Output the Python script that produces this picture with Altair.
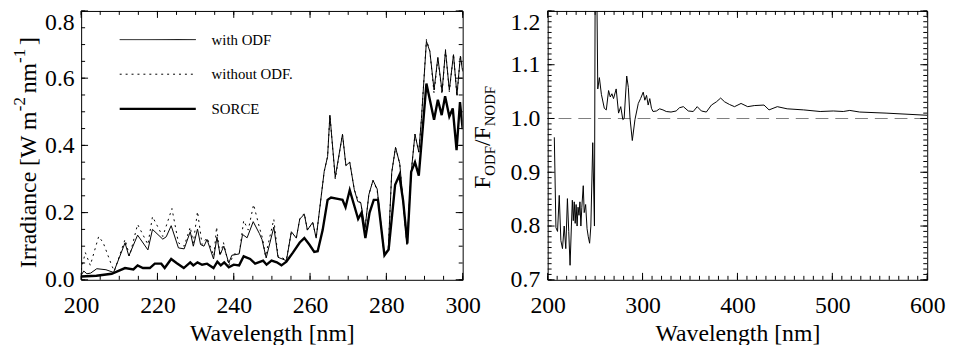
import altair as alt
import pandas as pd

# ---------------- data ----------------
with_wl = [200, 200.7, 201.5, 202.5, 204.1, 206.5, 208.5, 211.5, 212.5, 214.8, 217.5, 218.7,
           221.4, 222.3, 223.6, 225.5, 227.0, 228.6, 229.4, 230.5, 231.3, 232.2, 233.0, 234.7,
           235.6, 236.4, 237.4, 238.7, 239.5, 241.4, 242.3, 243.5, 245.1, 246.7, 247.4, 248.5,
           250.5, 251.6, 253.8, 255.1, 256.4, 257.3, 258.5, 259.3, 260.7, 261.6, 263.7, 264.6,
           265.2, 266.6, 268.5, 269.4, 270.4, 271.6, 272.5, 273.3, 274.4, 275.4, 276.5, 277.6,
           279.4, 280.5, 281.4, 282.4, 283.5, 285.4, 286.5, 287.5, 288.5, 289.2, 290.5, 291.4,
           292.5, 293.5, 294.6, 295.5, 296.5, 297.6, 298.5, 299.4, 300.0]
with_val = [0.014, 0.026, 0.018, 0.02, 0.033, 0.03, 0.022, 0.11, 0.071, 0.133, 0.089, 0.15,
            0.121, 0.128, 0.161, 0.095, 0.092, 0.143, 0.10, 0.151, 0.105, 0.10, 0.12, 0.062,
            0.127, 0.075, 0.10, 0.05, 0.073, 0.077, 0.135, 0.125, 0.173, 0.138, 0.12, 0.065,
            0.157, 0.067, 0.057, 0.143, 0.124, 0.181, 0.195, 0.148, 0.171, 0.124, 0.322, 0.367,
            0.49, 0.305, 0.433, 0.34, 0.35, 0.268, 0.233, 0.229, 0.152, 0.253, 0.296, 0.27,
            0.077, 0.09, 0.319, 0.394, 0.346, 0.105, 0.319, 0.433, 0.38, 0.48, 0.71, 0.68,
            0.565, 0.662, 0.56, 0.682, 0.565, 0.67, 0.55, 0.665, 0.62]

without_wl = [200, 201.1, 202.4, 204.6, 205.8, 208.0, 208.7, 211.5, 212.7, 214.8, 217.5, 218.7,
              221.4, 223.8, 225.5, 227.0, 228.6, 229.4, 230.5, 231.7, 233.0, 234.8, 235.5, 236.4,
              237.3, 238.7, 240.0, 241.5, 242.6, 243.8, 245.2, 246.7, 247.6, 248.3, 250.5, 251.6,
              253.8, 255.1, 256.4, 257.3, 258.5, 259.3, 260.7, 261.6, 263.7, 264.6, 265.2, 266.6,
              268.5, 269.4, 270.4, 271.6, 272.5, 273.3, 274.4, 275.4, 276.5, 277.6, 279.4, 280.5,
              281.4, 282.4, 283.5, 285.4, 286.5, 287.5, 288.5, 289.2, 290.5, 291.4, 292.5, 293.5,
              294.6, 295.5, 296.5, 297.6, 298.5, 299.4, 300.0]
without_val = [0.029, 0.081, 0.043, 0.129, 0.11, 0.043, 0.026, 0.12, 0.071, 0.165, 0.105, 0.188,
               0.129, 0.212, 0.11, 0.10, 0.157, 0.11, 0.203, 0.105, 0.125, 0.071, 0.157, 0.071,
               0.111, 0.043, 0.076, 0.081, 0.176, 0.148, 0.224, 0.157, 0.121, 0.07, 0.18, 0.07,
               0.06, 0.143, 0.124, 0.181, 0.198, 0.148, 0.171, 0.124, 0.322, 0.367, 0.49, 0.3,
               0.433, 0.34, 0.35, 0.268, 0.24, 0.229, 0.152, 0.253, 0.296, 0.265, 0.077, 0.09,
               0.319, 0.394, 0.346, 0.105, 0.319, 0.433, 0.38, 0.48, 0.715, 0.68, 0.555, 0.66,
               0.552, 0.685, 0.56, 0.672, 0.545, 0.668, 0.625]

sorce_wl = [200, 204, 208, 211.5, 213.7, 214.8, 216.2, 218.0, 219.3, 221.0, 221.9, 223.6, 225.0,
            226.9, 228.6, 229.4, 230.5, 231.7, 233.0, 234.7, 235.7, 236.6, 237.5, 238.7, 240.0,
            241.4, 242.6, 244.3, 245.6, 247.7, 248.6, 249.9, 251.3, 252.5, 253.8, 255.5, 257.3,
            258.5, 259.8, 261.1, 262.0, 263.3, 264.6, 265.5, 267.6, 268.5, 269.3, 270.4, 271.5,
            272.6, 273.5, 274.5, 275.6, 276.7, 277.8, 279.5, 280.6, 282.3, 283.4, 284.4, 285.5,
            286.5, 287.5, 288.5, 290.5, 292.5, 293.5, 294.5, 295.4, 296.5, 297.4, 298.4, 299.3, 300.0]
sorce_val = [0.01, 0.012, 0.018, 0.035, 0.031, 0.043, 0.035, 0.035, 0.048, 0.048, 0.035, 0.062, 0.05,
             0.035, 0.052, 0.043, 0.052, 0.045, 0.048, 0.035, 0.054, 0.043, 0.052, 0.037, 0.045,
             0.043, 0.07, 0.062, 0.048, 0.057, 0.045, 0.057, 0.052, 0.043, 0.054, 0.081, 0.111,
             0.124, 0.105, 0.083, 0.085, 0.148, 0.238, 0.245, 0.24, 0.238, 0.216, 0.267, 0.224,
             0.181, 0.2, 0.124, 0.2, 0.238, 0.238, 0.073, 0.09, 0.283, 0.311, 0.235, 0.108,
             0.321, 0.35, 0.31, 0.584, 0.476, 0.536, 0.49, 0.546, 0.486, 0.51, 0.386, 0.529, 0.448]

ratio_wl = [207, 208.7, 210.4, 212.2, 213.9, 215.6, 217.4, 219.1, 220.8, 222.2, 223.6, 225.0, 226.0,
            227.0, 228.0, 229.0, 230.0, 231.0, 232.0, 233.0, 234.0, 235.0, 236.0, 237.5, 238.5,
            240.0, 241.5, 242.8, 244.2, 245.5, 247.5, 249.3, 250.3, 251.2, 252.8, 254.5, 256.6,
            259.7, 261.8, 264.2, 266.0, 267.7, 269.4, 272.2, 274.7, 277.0, 279.2, 280.6, 283.3,
            285.0, 286.8, 289.2, 292.0, 295.5, 297.9, 300.7, 302.4, 304.2, 305.9, 307.6, 309.4,
            311.0, 314.6, 318.0, 321.5, 325.0, 330.0, 335.4, 338.9, 343.0, 348.2, 353.4, 357.6,
            362.0, 367.2, 372.6, 377.8, 382.3, 386.5, 391.7, 396.9, 403.8, 410.8, 417.7, 428.0,
            433.3, 442.0, 452.4, 469.8, 487.2, 501.0, 511.5, 518.4, 528.8, 556.6, 600.0]
ratio_val = [0.965, 0.797, 0.79, 0.857, 0.773, 0.758, 0.80, 0.758, 0.851, 0.79, 0.727, 0.80, 0.848,
             0.81, 0.845, 0.805, 0.84, 0.80, 0.835, 0.82, 0.845, 0.80, 0.835, 0.875, 0.825,
             0.84, 0.795, 0.78, 0.768, 0.80, 0.955, 0.80, 1.40, 1.35, 1.055, 1.076, 1.045,
             1.019, 1.016, 1.052, 1.04, 1.046, 1.037, 1.055, 1.01, 1.022, 0.998, 1.0, 1.079,
             1.058, 1.0, 0.959, 0.998, 1.028, 1.037, 1.049, 1.034, 1.043, 1.025, 1.037, 1.019,
             1.013, 1.014, 1.018, 1.016, 1.013, 1.012, 1.014, 1.02, 1.022, 1.014, 1.013, 1.022,
             1.014, 1.012, 1.025, 1.031, 1.038, 1.031, 1.026, 1.022, 1.028, 1.022, 1.024, 1.025,
             1.016, 1.022, 1.018, 1.016, 1.013, 1.014, 1.013, 1.015, 1.012, 1.01, 1.006]

reference_level = [1.0]
legend_labels = ["with ODF", "without ODF.", "SORCE"]

left_x_ticks = [200, 220, 240, 260, 280, 300]
left_y_ticks = [0.0, 0.2, 0.4, 0.6, 0.8]
right_x_ticks = [200, 300, 400, 500, 600]
right_y_ticks = [0.7, 0.8, 0.9, 1.0, 1.1, 1.2]

# ---------------- layout / style ----------------
FONT = "Liberation Serif"
W1, W2, H = 386, 384, 272
MAJ, MIN = 7, 4

TIMES_W = {"I": .333, "r": .333, "a": .444, "d": .5, "i": .278, "n": .5, "c": .444, "e": .444,
           " ": .25, "[": .333, "]": .333, "W": .944, "m": .778, "-": .333, "1": .5, "2": .5,
           "F": .556, "O": .722, "D": .722, "N": .722, "/": .278}


def text_width(s, fs):
    return sum(TIMES_W.get(ch, .5) for ch in s) * fs


def one_row():
    return pd.DataFrame({"k": [0]})


def rotated_title(pieces, x_base, y_start):
    layers = []
    y = y_start
    for txt, fs, dx, gap in pieces:
        layers.append(
            alt.Chart(one_row()).mark_text(
                text=txt, angle=270, align="left", baseline="alphabetic",
                font=FONT, fontSize=fs, color="black"
            ).encode(x=alt.value(x_base + dx), y=alt.value(y))
        )
        y -= text_width(txt, fs) + gap
    return layers


def tick_layers(xs, ys, xvals_maj, xvals_min, yvals_maj, yvals_min, w, xaxis, yaxis, xfield, yfield):
    layers = []
    for vals, ln in ((xvals_maj, MAJ), (xvals_min, MIN)):
        d = pd.DataFrame({xfield: vals})
        enc_x = alt.X(f"{xfield}:Q", scale=xs, axis=xaxis)
        layers.append(alt.Chart(d).mark_rule(color="black", strokeWidth=1).encode(
            x=enc_x, y=alt.value(H), y2=alt.value(H - ln)))
        layers.append(alt.Chart(d).mark_rule(color="black", strokeWidth=1).encode(
            x=enc_x, y=alt.value(0), y2=alt.value(ln)))
    for vals, ln in ((yvals_maj, MAJ), (yvals_min, MIN)):
        d = pd.DataFrame({yfield: vals})
        enc_y = alt.Y(f"{yfield}:Q", scale=ys, axis=yaxis)
        layers.append(alt.Chart(d).mark_rule(color="black", strokeWidth=1).encode(
            y=enc_y, x=alt.value(0), x2=alt.value(ln)))
        layers.append(alt.Chart(d).mark_rule(color="black", strokeWidth=1).encode(
            y=enc_y, x=alt.value(w), x2=alt.value(w - ln)))
    return layers


AX = dict(labelFont=FONT, labelFontSize=24, labelColor="black",
          titleFont=FONT, titleFontSize=24, titleFontWeight="normal", titleColor="black",
          grid=False, ticks=False, domain=False)


def top_label_flush(top_value):
    # only the top label hangs below the frame edge; the others stay centred on their tick
    return {"condition": {"test": f"datum.value >= {top_value - 0.001}", "value": "top"},
            "value": "middle"}


# ---------------- left panel ----------------
xs1 = alt.Scale(domain=[200, 300], nice=False, zero=False)
ys1 = alt.Scale(domain=[0, 0.8], nice=False, zero=False)
xax1 = alt.Axis(values=left_x_ticks, title="Wavelength [nm]", format="d", labelFlush=False,
                labelPadding=14, titlePadding=4, **AX)
yax1 = alt.Axis(values=left_y_ticks, title=None, format=".1f", labelFlush=False,
                labelBaseline=top_label_flush(0.8), labelPadding=7, **AX)

df_with = pd.DataFrame({"wl": with_wl, "v": with_val})
df_without = pd.DataFrame({"wl": without_wl, "v": without_val})
df_sorce = pd.DataFrame({"wl": sorce_wl, "v": sorce_val})


def series_line(df, **kw):
    return alt.Chart(df).mark_line(color="black", clip=True, **kw).encode(
        x=alt.X("wl:Q", scale=xs1, axis=xax1),
        y=alt.Y("v:Q", scale=ys1, axis=yax1),
    )


l_without = series_line(df_without, strokeWidth=1, strokeDash=[2, 4])
l_with = series_line(df_with, strokeWidth=1)
l_sorce = series_line(df_sorce, strokeWidth=2.4)

left_ticks = tick_layers(
    xs1, ys1, left_x_ticks, [200 + 5 * i for i in range(21)],
    left_y_ticks, [round(0.05 * i, 2) for i in range(17)], W1, xax1, yax1, "wl", "v")

legend_layers = []
for i, (lab, dash, sw) in enumerate(zip(legend_labels, [[1, 0], [2, 4], [1, 0]], [1, 1, 2.4])):
    yy = 29 + 35 * i
    legend_layers.append(alt.Chart(one_row()).mark_rule(color="black", strokeWidth=sw, strokeDash=dash)
                         .encode(x=alt.value(39), x2=alt.value(116), y=alt.value(yy)))
    legend_layers.append(alt.Chart(one_row()).mark_text(
        text=lab, align="left", baseline="middle", font=FONT, fontSize=15, color="black")
        .encode(x=alt.value(132), y=alt.value(yy)))

left_title = rotated_title(
    [("Irradiance [W m", 24, 0, 0), ("-2", 17, -11, 4), ("nm", 24, 0, 0), ("-1", 17, -11, 4),
     ("]", 24, 0, 0)],
    -46, 260)

left = alt.layer(l_without, l_with, l_sorce, *left_ticks, *legend_layers, *left_title).properties(
    width=W1, height=H)

# ---------------- right panel ----------------
xs2 = alt.Scale(domain=[200, 600], nice=False, zero=False)
ys2 = alt.Scale(domain=[0.7, 1.2], nice=False, zero=False)
xax2 = alt.Axis(values=right_x_ticks, title="Wavelength [nm]", format="d", labelFlush=False,
                labelPadding=14, titlePadding=4, **AX)
yax2 = alt.Axis(values=right_y_ticks, title=None, format=".1f", labelFlush=False,
                labelBaseline=top_label_flush(1.2), labelPadding=8, **AX)

df_ratio = pd.DataFrame({"wl": ratio_wl, "r": ratio_val})
df_ref = pd.DataFrame({"r": reference_level})

r_line = alt.Chart(df_ratio).mark_line(color="black", strokeWidth=1, clip=True).encode(
    x=alt.X("wl:Q", scale=xs2, axis=xax2),
    y=alt.Y("r:Q", scale=ys2, axis=yax2),
)
r_ref = alt.Chart(df_ref).mark_rule(color="#808080", strokeWidth=1.2, strokeDash=[13, 7]).encode(
    y=alt.Y("r:Q", scale=ys2, axis=yax2)
)
right_ticks = tick_layers(
    xs2, ys2, right_x_ticks, [200 + 10 * i for i in range(41)],
    right_y_ticks, [round(0.7 + 0.01 * i, 2) for i in range(51)], W2, xax2, yax2, "wl", "r")

right_title = rotated_title(
    [("F", 24, 0, 0), ("ODF", 15, 5, 0), ("/F", 24, 0, 0), ("NODF", 15, 5, 0)], -58, 180)

right = alt.layer(r_ref, r_line, *right_ticks, *right_title).properties(width=W2, height=H)

chart = alt.hconcat(left, right, spacing=86, bounds="flush").properties(
    padding={"left": 2, "top": 0, "right": 0, "bottom": 0}, background="white"
).configure_view(
    stroke="black", strokeWidth=1
).configure_axis(**AX)

chart.save("out.html", embed_options={"renderer": "svg", "actions": False})
